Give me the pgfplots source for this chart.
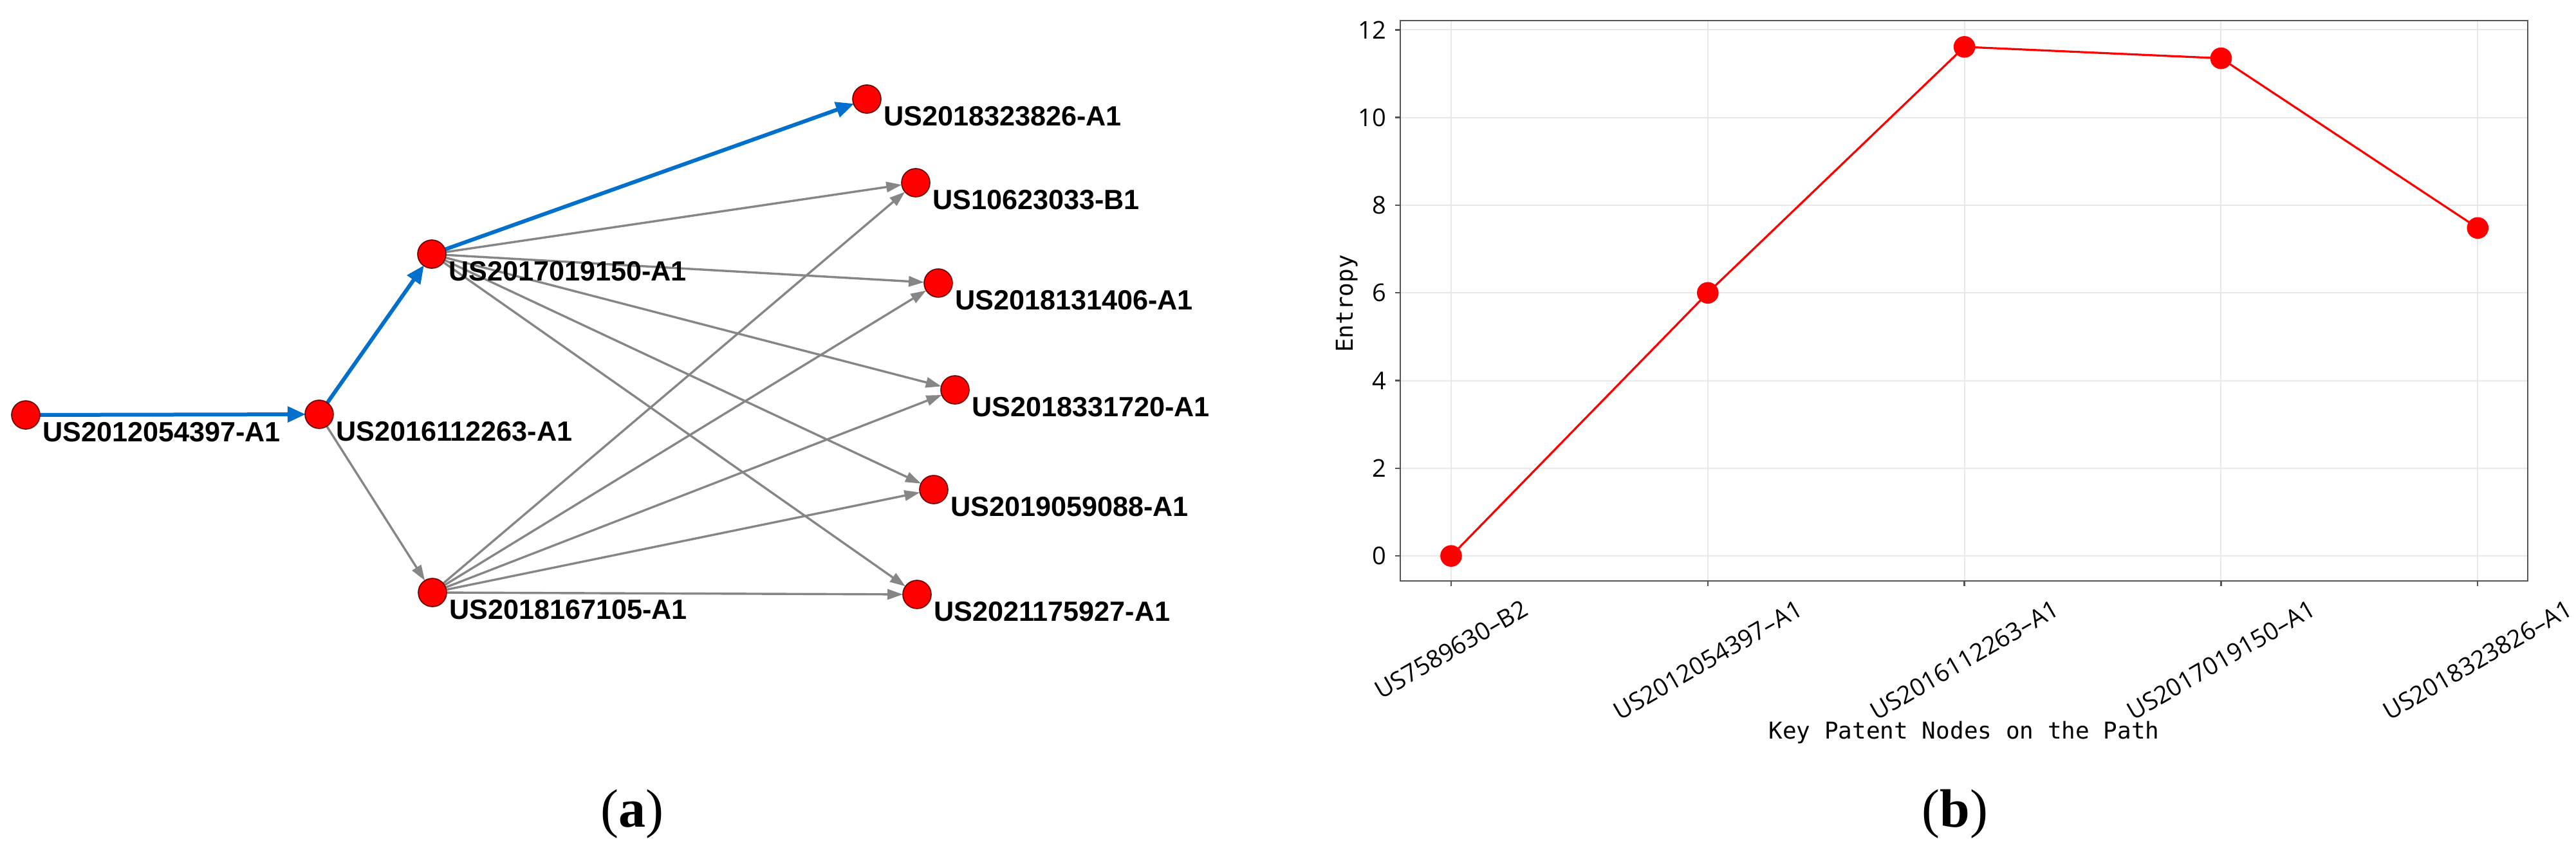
\documentclass[border=0pt]{standalone}
\usepackage{fontspec}
\setmainfont{Liberation Serif}
\newfontfamily\labfont{Liberation Sans}
\newfontfamily\ticfont{Open Sans}
\newfontfamily\monofont{DejaVu Sans Mono}
\usepackage{graphicx}
\usepackage{pgfplots}
\usepackage{pgfplotstable}
\pgfplotsset{compat=1.18}
\usetikzlibrary{arrows.meta}
\definecolor{pathblue}{RGB}{0,112,204}
\definecolor{edgegray}{RGB}{134,134,134}
\definecolor{nodered}{RGB}{255,0,0}
\definecolor{gridgray}{RGB}{232,232,232}
\definecolor{framegray}{RGB}{85,85,85}

\pgfplotstableread{
x y label
40 645 US2012054397-A1
496 644 US2016112263-A1
671 395 US2017019150-A1
672 921 US2018167105-A1
1347 154 US2018323826-A1
1423 284 US10623033-B1
1458 440 US2018131406-A1
1484 606 US2018331720-A1
1451 761 US2019059088-A1
1425 924 US2021175927-A1
}\nodetable

\pgfplotstableread{
x y
0 0
1 6.00
2 11.61
3 11.35
4 7.48
}\entropytable

\newcommand{\pathedge}[4]{\addplot[pathblue, line width=1.5pt, -{Triangle[length=7pt,width=6pt]}, shorten >=5.3pt] coordinates {(#1,#2) (#3,#4)};}
\newcommand{\grayedge}[4]{\addplot[edgegray, line width=0.85pt, -{Triangle[length=6pt,width=4pt]}, shorten >=5.5pt] coordinates {(#1,#2) (#3,#4)};}

\begin{document}
\begin{tikzpicture}
\useasboundingbox (0,0) rectangle (1000.75pt,332pt);
\begin{axis}[at={(0,0)}, anchor=south west, scale only axis,
  width=1000.75pt, height=332pt,
  xmin=0, xmax=4003, ymin=0, ymax=1328, y dir=reverse,
  hide axis, clip=false]
% gray edges
\grayedge{496}{644}{672}{921}
\grayedge{671}{395}{1423}{284}
\grayedge{671}{395}{1458}{440}
\grayedge{671}{395}{1484}{606}
\grayedge{671}{395}{1451}{761}
\grayedge{671}{395}{1425}{924}
\grayedge{672}{921}{1423}{284}
\grayedge{672}{921}{1458}{440}
\grayedge{672}{921}{1484}{606}
\grayedge{672}{921}{1451}{761}
\grayedge{672}{921}{1425}{924}
% main path
\pathedge{40}{645}{496}{644}
\pathedge{496}{644}{671}{395}
\pathedge{671}{395}{1347}{154}
% nodes
\addplot[only marks, mark=*, mark size=5.5pt,
  mark options={fill=nodered, draw=black!60!red, line width=0.4pt},
  nodes near coords, point meta=explicit symbolic,
  every node near coord/.append style={anchor=north west, inner sep=0pt,
    xshift=6.3pt, yshift=-2.6pt, text=black,
    font=\labfont\bfseries\fontsize{10.8}{13}\selectfont}]
  table[x=x, y=y, meta=label] {\nodetable};
\node[font=\fontsize{21}{25}\selectfont] at (axis cs:982,1265) {(\textbf{a})};
\node[font=\fontsize{21}{25}\selectfont] at (axis cs:3038,1265) {(\textbf{b})};
\end{axis}

\begin{axis}[at={(544pt,106.25pt)}, anchor=south west, scale only axis,
  width=438pt, height=217.75pt,
  xmin=-0.198, xmax=4.195, ymin=-0.57, ymax=12.21,
  xtick={0,1,2,3,4},
  xticklabels={\rotatebox{30}{US7589630–B2}, \rotatebox{30}{US2012054397–A1},
    \rotatebox{30}{US2016112263–A1}, \rotatebox{30}{US2017019150–A1},
    \rotatebox{30}{US2018323826–A1}},
  ytick={0,2,4,6,8,10,12},
  tick pos=left, tick align=outside, major tick length=2pt,
  tick style={framegray, line width=0.6pt},
  grid=major, major grid style={gridgray, line width=0.5pt},
  axis line style={framegray, line width=0.6pt},
  ticklabel style={font=\ticfont\fontsize{9.5}{11}\selectfont},
  xticklabel style={yshift=-1.5pt},
  /pgf/number format/assume math mode=true,
  xlabel={Key Patent Nodes on the Path}, ylabel={Entropy},
  label style={font=\monofont\fontsize{9}{11}\selectfont},
  xlabel style={at={(axis description cs:0.5,-0.2813)}, anchor=base},
  ylabel style={at={(axis description cs:-0.0422,0.495)}, anchor=base},
]
\addplot[red, line width=0.8pt, mark=*, mark size=3.8pt,
  mark options={fill=red, draw=red}] table[x=x, y=y] {\entropytable};
\end{axis}
\end{tikzpicture}
\end{document}
